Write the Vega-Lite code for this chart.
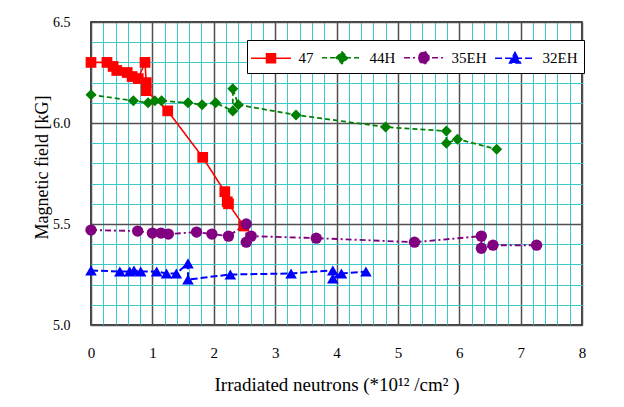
{
  "$schema": "https://vega.github.io/schema/vega-lite/v6.json",
  "width": 491,
  "height": 303,
  "autosize": {"type": "none"},
  "padding": {"left": 91, "top": 22, "right": 42, "bottom": 82},
  "background": "white",
  "config": {
    "font": "Liberation Serif",
    "view": {"stroke": "black", "strokeWidth": 1.5},
    "axis": {"labelColor": "black", "titleColor": "black", "titleFontWeight": "normal", "ticks": false, "domain": false, "labelOverlap": false, "labelBound": false, "labelFlush": false}
  },
  "data": {
    "values": [
      {"s": "47", "i": 0, "x": 0, "y": 6.30},
      {"s": "47", "i": 1, "x": 0.26, "y": 6.30},
      {"s": "47", "i": 2, "x": 0.36, "y": 6.28},
      {"s": "47", "i": 3, "x": 0.42, "y": 6.26},
      {"s": "47", "i": 4, "x": 0.59, "y": 6.25},
      {"s": "47", "i": 5, "x": 0.67, "y": 6.23},
      {"s": "47", "i": 6, "x": 0.77, "y": 6.22},
      {"s": "47", "i": 7, "x": 0.88, "y": 6.30},
      {"s": "47", "i": 8, "x": 0.9, "y": 6.20},
      {"s": "47", "i": 9, "x": 0.9, "y": 6.16},
      {"s": "47", "i": 10, "x": 1.25, "y": 6.06},
      {"s": "47", "i": 11, "x": 1.82, "y": 5.83},
      {"s": "47", "i": 12, "x": 2.18, "y": 5.66},
      {"s": "47", "i": 13, "x": 2.22, "y": 5.61},
      {"s": "47", "i": 14, "x": 2.24, "y": 5.60},
      {"s": "47", "i": 15, "x": 2.49, "y": 5.49},
      {"s": "44H", "i": 0, "x": 0, "y": 6.14},
      {"s": "44H", "i": 1, "x": 0.69, "y": 6.11},
      {"s": "44H", "i": 2, "x": 0.93, "y": 6.10},
      {"s": "44H", "i": 3, "x": 1.04, "y": 6.11},
      {"s": "44H", "i": 4, "x": 1.15, "y": 6.11},
      {"s": "44H", "i": 5, "x": 1.58, "y": 6.10},
      {"s": "44H", "i": 6, "x": 1.81, "y": 6.09},
      {"s": "44H", "i": 7, "x": 2.03, "y": 6.10},
      {"s": "44H", "i": 8, "x": 2.31, "y": 6.06},
      {"s": "44H", "i": 9, "x": 2.31, "y": 6.17},
      {"s": "44H", "i": 10, "x": 2.40, "y": 6.09},
      {"s": "44H", "i": 11, "x": 3.34, "y": 6.04},
      {"s": "44H", "i": 12, "x": 4.80, "y": 5.98},
      {"s": "44H", "i": 13, "x": 5.79, "y": 5.96},
      {"s": "44H", "i": 14, "x": 5.79, "y": 5.90},
      {"s": "44H", "i": 15, "x": 5.97, "y": 5.92},
      {"s": "44H", "i": 16, "x": 6.61, "y": 5.87},
      {"s": "35EH", "i": 0, "x": 0, "y": 5.47},
      {"s": "35EH", "i": 1, "x": 0.76, "y": 5.465},
      {"s": "35EH", "i": 2, "x": 1.0, "y": 5.455},
      {"s": "35EH", "i": 3, "x": 1.14, "y": 5.455},
      {"s": "35EH", "i": 4, "x": 1.26, "y": 5.45},
      {"s": "35EH", "i": 5, "x": 1.72, "y": 5.46},
      {"s": "35EH", "i": 6, "x": 1.97, "y": 5.45},
      {"s": "35EH", "i": 7, "x": 2.24, "y": 5.44},
      {"s": "35EH", "i": 8, "x": 2.53, "y": 5.50},
      {"s": "35EH", "i": 9, "x": 2.53, "y": 5.41},
      {"s": "35EH", "i": 10, "x": 2.61, "y": 5.44},
      {"s": "35EH", "i": 11, "x": 3.67, "y": 5.43},
      {"s": "35EH", "i": 12, "x": 5.27, "y": 5.41},
      {"s": "35EH", "i": 13, "x": 6.36, "y": 5.44},
      {"s": "35EH", "i": 14, "x": 6.36, "y": 5.38},
      {"s": "35EH", "i": 15, "x": 6.55, "y": 5.395},
      {"s": "35EH", "i": 16, "x": 7.26, "y": 5.395},
      {"s": "32EH", "i": 0, "x": 0, "y": 5.27},
      {"s": "32EH", "i": 1, "x": 0.47, "y": 5.265},
      {"s": "32EH", "i": 2, "x": 0.63, "y": 5.265},
      {"s": "32EH", "i": 3, "x": 0.70, "y": 5.27},
      {"s": "32EH", "i": 4, "x": 0.81, "y": 5.265},
      {"s": "32EH", "i": 5, "x": 1.07, "y": 5.265},
      {"s": "32EH", "i": 6, "x": 1.23, "y": 5.255},
      {"s": "32EH", "i": 7, "x": 1.39, "y": 5.255},
      {"s": "32EH", "i": 8, "x": 1.58, "y": 5.305},
      {"s": "32EH", "i": 9, "x": 1.58, "y": 5.225},
      {"s": "32EH", "i": 10, "x": 2.27, "y": 5.25},
      {"s": "32EH", "i": 11, "x": 3.26, "y": 5.255},
      {"s": "32EH", "i": 12, "x": 3.94, "y": 5.27},
      {"s": "32EH", "i": 13, "x": 3.94, "y": 5.23},
      {"s": "32EH", "i": 14, "x": 4.08, "y": 5.255},
      {"s": "32EH", "i": 15, "x": 4.48, "y": 5.265}
    ]
  },
  "encoding": {
    "x": {
      "field": "x", "type": "quantitative",
      "scale": {"domain": [0, 8], "nice": false, "zero": false},
      "axis": {
        "values": [0, 0.2, 0.4, 0.6, 0.8, 1, 1.2, 1.4, 1.6, 1.8, 2, 2.2, 2.4, 2.6, 2.8, 3, 3.2, 3.4, 3.6, 3.8, 4, 4.2, 4.4, 4.6, 4.8, 5, 5.2, 5.4, 5.6, 5.8, 6, 6.2, 6.4, 6.6, 6.8, 7, 7.2, 7.4, 7.6, 7.8, 8],
        "grid": true,
        "gridColor": {"condition": {"test": "datum.value % 1 === 0", "value": "#505050"}, "value": "#3cc9c9"},
        "gridWidth": {"condition": {"test": "datum.value % 1 === 0", "value": 1.5}, "value": 1},
        "labelExpr": "datum.value % 1 === 0 ? format(datum.value, 'd') : ''",
        "labelFontSize": 15,
        "labelPadding": 20,
        "title": "Irradiated neutrons (*10¹² /cm² )",
        "titleFontSize": 19,
        "titlePadding": 15
      }
    },
    "y": {
      "field": "y", "type": "quantitative",
      "scale": {"domain": [5.0, 6.5], "nice": false, "zero": false},
      "axis": {
        "values": [5, 5.1, 5.2, 5.3, 5.4, 5.5, 5.6, 5.7, 5.8, 5.9, 6, 6.1, 6.2, 6.3, 6.4, 6.5],
        "grid": true,
        "gridColor": {"condition": {"test": "(datum.value * 2) % 1 === 0", "value": "#505050"}, "value": "#3cc9c9"},
        "gridWidth": {"condition": {"test": "(datum.value * 2) % 1 === 0", "value": 1.5}, "value": 1},
        "labelExpr": "(datum.value * 2) % 1 === 0 ? format(datum.value, '.1f') : ''",
        "labelFontSize": 14,
        "labelPadding": 21,
        "title": "Magnetic field [kG]",
        "titleFontSize": 18,
        "titlePadding": 1,
        "titleY": 145
      }
    },
    "color": {
      "field": "s", "type": "nominal",
      "scale": {"domain": ["47", "44H", "35EH", "32EH"], "range": ["#ff0000", "#008000", "#800080", "#0000ff"]},
      "legend": {
        "title": null,
        "orient": "none",
        "legendX": 156,
        "legendY": 18,
        "direction": "horizontal",
        "padding": 6,
        "strokeColor": "black",
        "fillColor": "white",
        "labelFont": "Liberation Serif",
        "labelFontSize": 15,
        "labelColor": "black",
        "labelOffset": 16,
        "columnPadding": 5,
        "symbolSize": 441,
        "symbolOffset": 6.5,
        "symbolStrokeWidth": 1.5,
        "encode": {
          "symbols": {
            "update": {
              "shape": {"signal": "datum.value === '47' ? 'M-1.9,0H1.9M-0.43,-0.43H0.43V0.43H-0.43Z' : datum.value === '44H' ? 'M-1.9,0H1.9M-0.57,0L0,-0.57L0.57,0L0,0.57Z' : datum.value === '35EH' ? 'M-1.9,0H1.9M-0.48,0A0.48,0.57,0,1,0,0.48,0A0.48,0.57,0,1,0,-0.48,0Z' : 'M-1.9,0H1.9M0,-0.55L0.52,0.45L-0.52,0.45Z'"},
              "fill": {"signal": "datum.value === '47' ? '#ff0000' : datum.value === '44H' ? '#008000' : datum.value === '35EH' ? '#800080' : '#0000ff'"},
              "stroke": {"signal": "datum.value === '47' ? '#ff0000' : datum.value === '44H' ? '#008000' : datum.value === '35EH' ? '#800080' : '#0000ff'"},
              "strokeDash": {"signal": "datum.value === '47' ? [1, 0] : datum.value === '44H' ? [5, 3] : datum.value === '35EH' ? [6, 3, 2, 3] : [7, 3]"},
              "size": {"value": 441},
              "opacity": {"value": 1},
              "fillOpacity": {"value": 1}
            }
          }
        }
      }
    }
  },
  "layer": [
    {
      "mark": {"type": "line"},
      "encoding": {
        "order": {"field": "i", "type": "quantitative"},
        "strokeDash": {
          "field": "s", "type": "nominal", "legend": null,
          "scale": {"range": [[7, 3], [6, 3, 2, 3], [5, 3], [1, 0]]}
        },
        "strokeWidth": {
          "field": "s", "type": "nominal", "legend": null,
          "scale": {"range": [2, 1.6, 1.3, 1.1]}
        }
      }
    },
    {
      "mark": {"type": "point", "filled": true, "opacity": 1},
      "encoding": {
        "shape": {
          "field": "s", "type": "nominal", "legend": null,
          "scale": {"range": ["triangle-up", "circle", "diamond", "square"]}
        },
        "size": {
          "field": "s", "type": "nominal", "legend": null,
          "scale": {"range": [135, 115, 140, 81]}
        }
      }
    }
  ]
}
